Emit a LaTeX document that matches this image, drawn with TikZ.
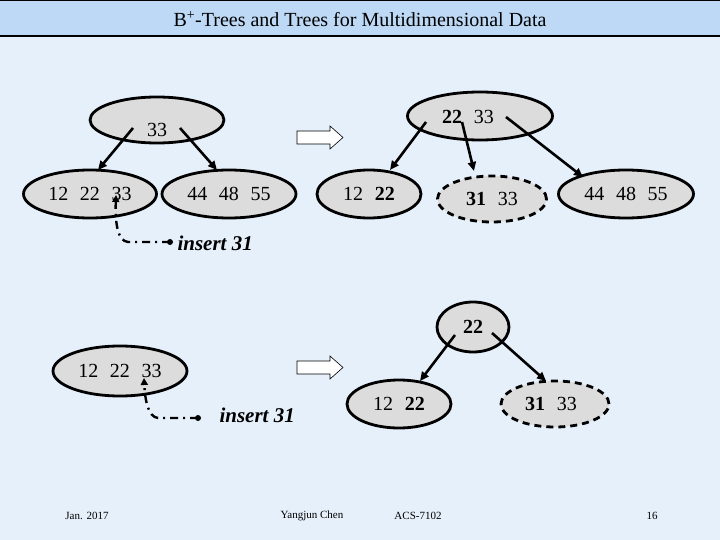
\documentclass[tikz,border=0pt]{standalone}
\usepackage{fontspec}
\setmainfont{Liberation Serif}
\usetikzlibrary{arrows.meta,shapes.geometric}
\definecolor{bg}{HTML}{E6F0FA}
\definecolor{hdr}{HTML}{BDD9F5}
\definecolor{nodefill}{HTML}{DCDCDC}
\begin{document}
\begin{tikzpicture}[x=1pt,y=-1pt,
  nd/.style={ellipse,draw=black,line width=2.8pt,fill=nodefill,inner sep=0pt,font=\fontsize{20}{22}\selectfont},
  dnd/.style={nd,dash pattern=on 7pt off 5pt},
  con/.style={line width=2.6pt,-{Triangle[length=9pt,width=8pt]}},
  ins/.style={line width=2.4pt,dash pattern=on 8pt off 5pt on 2pt off 5pt,-{Triangle[length=7pt,width=7pt]}},
  lab/.style={font=\fontsize{21}{24}\selectfont\bfseries\itshape,anchor=west},
  foot/.style={font=\fontsize{11}{13}\selectfont},
  hol/.style={draw=black,line width=0.6pt,fill=white}]
\useasboundingbox (0,0) rectangle (720,540);
\fill[bg] (0,0) rectangle (720,540);
\fill[hdr] (0,0) rectangle (720,36);
\draw[line width=1pt] (0,0.5) -- (720,0.5);
\draw[line width=1.2pt] (0,36) -- (720,36);
\node[font=\fontsize{20}{22}\selectfont] (title) at (360,19) {B\textsuperscript{+}-Trees and Trees for Multidimensional Data};
% top-left tree
\node[nd,minimum width=134pt,minimum height=46pt] (r1) at (157,120) {};
\node[font=\fontsize{20}{22}\selectfont] (r1t) at (157,130) {33};
\node[nd,minimum width=133pt,minimum height=48pt] (a1) at (90,194) {12\,\, 22\,\, 33};
\node[nd,minimum width=134pt,minimum height=48pt] (b1) at (229,194) {44\,\, 48\,\, 55};
\coordinate (r1l) at (133,128); \coordinate (r1r) at (180,128);
\coordinate (a1t) at (98,170); \coordinate (b1t) at (217,170);
\draw[con] (r1l) -- (a1t);
\draw[con] (r1r) -- (b1t);
\node[lab] (i1) at (174,243) {insert 31};
\coordinate (d1) at (170,242); \coordinate (t1) at (116,195);
\fill (d1) circle (3pt);
\draw[ins] (d1) -- (128,242) .. controls (118,241) and (115,225) .. (t1);
% hollow arrow 1
\draw[hol] (297,131) -- (330,131) -- (330,126) -- (343,137.5) -- (330,149) -- (330,144) -- (297,144) -- cycle;
% top-right tree
\node[nd,minimum width=145pt,minimum height=48pt] (r2) at (480,116) {};
\node[font=\fontsize{20}{22}\selectfont] (r2t) at (468,117) {\textbf{22}\,\, 33};
\node[nd,minimum width=104pt,minimum height=48pt] (a2) at (369,194) {12\,\, \textbf{22}};
\node[dnd,minimum width=109pt,minimum height=46pt] (c2) at (492,199) {\textbf{31}\,\, 33};
\node[nd,minimum width=135pt,minimum height=48pt] (b2) at (626,194) {44\,\, 48\,\, 55};
\draw[con] (426,122) -- (390,170);
\draw[con] (462,122) -- (474,171);
\draw[con] (506,117) -- (583,177);
% bottom-left
\node[nd,minimum width=134pt,minimum height=50pt] (a3) at (120,371) {12\,\, 22\,\, 33};
\node[lab] (i3) at (216,415) {insert 31};
\coordinate (d3) at (198,418); \coordinate (t3) at (144,378);
\fill (d3) circle (3pt);
\draw[ins] (d3) -- (158,418) .. controls (148,417) and (145,400) .. (t3);
\draw[hol] (297,361) -- (330,361) -- (330,356) -- (343,367.5) -- (330,379) -- (330,374) -- (297,374) -- cycle;
% bottom-right
\node[nd,minimum width=72pt,minimum height=50pt] (r4) at (473,327) {\textbf{22}};
\node[nd,minimum width=104pt,minimum height=48pt] (a4) at (399,404) {12\,\, \textbf{22}};
\node[dnd,minimum width=108pt,minimum height=46pt] (c4) at (555,404) {};
\node[font=\fontsize{20}{22}\selectfont] (c4t) at (551,404) {\textbf{31}\,\, 33};
\draw[con] (455,335) -- (420,381);
\draw[con] (492,333) -- (546,381);
% footer
\node[foot] (f1) at (87,516) {Jan. 2017};
\node[foot] (f2) at (312,516) {Yangjun Chen};
\node[foot] (f3) at (418,516) {ACS-7102};
\node[foot] (f4) at (652,516) {16};
\end{tikzpicture}
\end{document}
